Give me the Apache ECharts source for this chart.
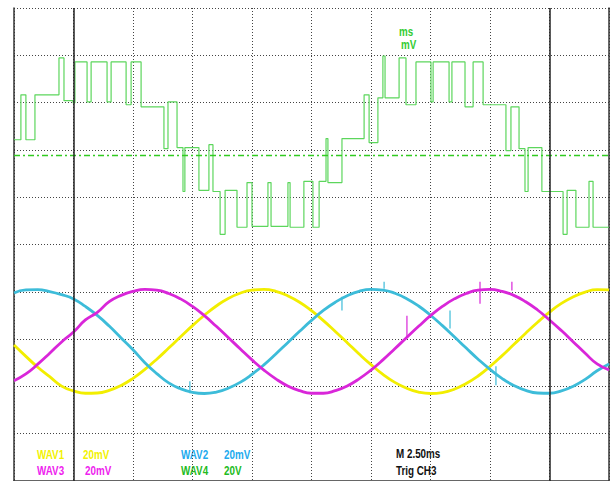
<!DOCTYPE html>
<html><head><meta charset="utf-8">
<script src="https://cdn.jsdelivr.net/npm/echarts@6/dist/echarts.min.js"></script>
<style>html,body{margin:0;padding:0;background:#fff}#c{width:616px;height:481px}</style>
</head><body><div id="c"></div>
<script>
// ---- data (time in ms, 2.5 ms/div) ----
const sampleTimes = [0,0.5,1,1.5,2,2.5,3,3.5,4,4.5,5,5.5,6,6.5,7,7.5,8,8.5,9,9.5,10,10.5,11,11.5,12,12.5,13,13.5,14,14.5,15,15.5,16,16.5,17,17.5,18,18.5,19,19.5,20,20.5,21,21.5,22,22.5,23,23.5,24,24.5,25];
// WAV1 (yellow), mV
const wav1 = [-1.5,-6.3,-10.9,-14.9,-18.9,-20.9,-21.9,-21.8,-20.7,-18.6,-15.6,-11.8,-7.5,-2.8,2.0,6.7,11.1,15.0,18.2,20.4,21.7,22.0,21.2,19.3,16.6,13.0,8.8,4.2,-0.5,-5.3,-9.8,-13.9,-17.3,-19.8,-21.4,-22.0,-21.6,-20.2,-17.8,-14.6,-10.6,-6.1,-1.3,3.5,8.1,12.4,16.1,18.9,20.9,21.9,21.8];
// WAV2 (cyan), mV
const wav2 = [20.5,21.8,21.9,21.1,19.8,18.0,14.8,11.0,6.5,1.5,-3.5,-9.0,-13.6,-17.5,-20.0,-21.5,-22.0,-21.4,-19.8,-17.3,-13.9,-9.9,-5.3,-0.5,4.3,8.9,13.1,16.6,19.3,21.2,22.0,21.7,20.4,18.1,15.0,11.1,6.7,2.0,-2.8,-7.5,-11.8,-15.6,-18.6,-20.7,-21.8,-21.9,-20.9,-18.9,-16.0,-12.4,-9.5];
// WAV3 (magenta), mV
const wav3 = [-16.6,-13.7,-9.6,-5.0,-0.2,4.0,9.1,12.3,16.8,19.5,21.2,22.0,21.7,20.3,18.0,14.8,10.9,6.4,1.7,-3.1,-7.8,-12.1,-15.8,-18.8,-20.8,-21.9,-21.9,-20.8,-18.8,-15.8,-12.1,-7.8,-3.1,1.7,6.4,10.9,14.8,18.0,20.3,21.7,22.0,21.2,19.5,16.8,13.3,9.1,4.6,-0.2,-5.0,-9.5,-12.0];
// glitch spikes: [time ms, from mV, to mV]
const wav2Spikes = [[7.39,-16.8,-21.9],[13.78,18.9,13.1],[15.55,25.3,22.3],[18.32,13.1,5.5],[20.25,-10.5,-18.5]];
const wav3Spikes = [[16.51,10.9,2.1],[19.58,25.3,16.0],[20.92,25.3,21.5]];
// WAV4 (green, stepped) : start time of each level (ms) and level (V)
const wav4Times = [0,0.29,0.50,0.88,1.89,2.10,2.48,2.56,3.07,3.24,3.91,4.08,4.71,4.92,5.34,6.30,6.47,6.85,7.10,7.18,7.77,8.19,8.36,8.66,8.87,9.37,9.79,10.00,10.67,10.80,11.51,11.60,12.18,12.56,12.82,13.11,13.19,13.78,14.71,14.92,15.29,15.50,15.59,16.18,16.47,16.89,17.52,17.61,18.28,18.40,18.95,19.29,19.71,20.67,20.88,21.22,21.47,21.60,22.18,23.07,23.24,23.61,24.16,24.33,25.00];
const wav4Volts = [6.7,25.7,6.7,25.7,41.3,23.2,22.3,39.6,22.7,39.6,22.7,39.6,21.5,39.6,20.6,2.9,22.7,3.4,-15.2,3.4,-14.7,4.6,-15.2,-33.3,-14.7,-30.3,-11.4,-29.9,-11.4,-29.9,-11.4,-30.3,-10.9,-30.3,-10.9,7.2,-11.4,7.2,25.7,5.5,24.4,42.1,24.4,41.3,21.5,39.6,22.7,39.6,22.7,39.6,20.6,39.6,21.5,2.1,20.6,2.9,-15.2,3.4,-15.2,-33.3,-14.7,-30.3,-10.9,-30.3,-30.3];
const cursorTimes = [2.5, 22.5];
const channelLabels = ['WAV1','WAV2','WAV3','WAV4'];
const scaleLabels = ['20mV','20mV','20mV','20V'];
const timebaseLabel = 'M 2.50ms';
const triggerLabel = 'Trig CH3';
const unitLabels = ['ms','mV'];

// ---- scope layout (divisions) ----
const DIV_X = 10, DIV_Y = 10, MS_PER_DIV = 2.5;
const mvPerDiv = 20, vPerDiv = 20;
const sineRefDiv = 2.95;   // sine channels zero, divisions from bottom
const greenRefDiv = 6.88;  // WAV4 zero marker

const pair = (xs, ys) => xs.map((x, i) => [x, ys[i]]);
const spikeData = sp => sp.flatMap(s => [[s[0], s[1]], [s[0], s[2]], [s[0], null]]);
const colors = {wav1:'#f2ee00', wav2:'#3dbcd9', wav3:'#d926d9', wav4:'#5cd65c'};
const font = 'bold 12px "Liberation Sans", Arial, sans-serif';

const chart = echarts.init(document.getElementById('c'), null, {renderer:'svg', width:616, height:481});
const dotted = {show:true, lineStyle:{color:'#444', width:1, type:[1,2]}};
const txt = (s, x, y, fill) => ({type:'text', x, y, scaleX:0.82, style:{text:s, fill, font}});
const sine = (name, data, color) => ({type:'line', name, yAxisIndex:2, smooth:true, showSymbol:false, data, lineStyle:{color, width:2.8}, z:4});
const spikes = (name, data, color) => ({type:'line', name, yAxisIndex:2, showSymbol:false, connectNulls:false, data, lineStyle:{color, width:1.2}, z:4});
chart.setOption({
  animation:false,
  backgroundColor:'#ffffff',
  grid:{left:14, top:8, width:595, height:475, containLabel:false},
  xAxis:{type:'value', min:0, max:DIV_X*MS_PER_DIV, interval:MS_PER_DIV, position:'top',
    axisLine:{show:true, lineStyle:{color:'#333', width:1.5}}, axisTick:{show:false}, axisLabel:{show:false}, splitLine:dotted},
  yAxis:[
    {type:'value', min:0, max:DIV_Y, interval:1, position:'left',
      axisLine:{show:true, lineStyle:{color:'#333', width:1.5}}, axisTick:{show:false}, axisLabel:{show:false}, splitLine:dotted},
    {type:'value', min:-greenRefDiv*vPerDiv, max:(DIV_Y-greenRefDiv)*vPerDiv, position:'right',
      axisLine:{show:true, onZero:false, lineStyle:{color:'#333', width:1.5}}, axisTick:{show:false}, axisLabel:{show:false}, splitLine:{show:false}},
    {type:'value', show:false, min:-sineRefDiv*mvPerDiv, max:(DIV_Y-sineRefDiv)*mvPerDiv, splitLine:{show:false}}
  ],
  series:[
    {type:'line', name:'WAV4', yAxisIndex:1, step:'end', showSymbol:false, data:pair(wav4Times, wav4Volts),
      lineStyle:{color:colors.wav4, width:1.2}, z:3,
      markLine:{silent:true, symbol:'none', label:{show:false}, animation:false,
        data:[
          {yAxis:0, lineStyle:{color:'#33cc22', width:1.3, opacity:1, type:[6,3,2,3]}},
          {xAxis:cursorTimes[0], lineStyle:{color:'#222', width:1.5, opacity:1, type:'solid'}},
          {xAxis:cursorTimes[1], lineStyle:{color:'#222', width:1.5, opacity:1, type:'solid'}}
        ]}},
    sine('WAV1', pair(sampleTimes, wav1), colors.wav1),
    sine('WAV2', pair(sampleTimes, wav2), colors.wav2),
    sine('WAV3', pair(sampleTimes, wav3), colors.wav3),
    spikes('WAV2', spikeData(wav2Spikes), colors.wav2),
    spikes('WAV3', spikeData(wav3Spikes), colors.wav3)
  ],
  graphic:[
    txt(channelLabels[0], 37, 449, '#f2f200'), txt(scaleLabels[0], 83, 449, '#f2f200'),
    txt(channelLabels[1], 181, 449, '#22aaee'), txt(scaleLabels[1], 224, 449, '#22aaee'),
    txt(channelLabels[2], 37, 465, '#ee22ee'), txt(scaleLabels[2], 85, 465, '#ee22ee'),
    txt(channelLabels[3], 181, 465, '#22bb22'), txt(scaleLabels[3], 224, 465, '#22bb22'),
    txt(timebaseLabel, 396, 448, '#111'), txt(triggerLabel, 396, 465, '#111'),
    txt(unitLabels[0], 399, 26, '#33cc33'), txt(unitLabels[1], 401, 39, '#33cc33')
  ]
});
</script></body></html>
